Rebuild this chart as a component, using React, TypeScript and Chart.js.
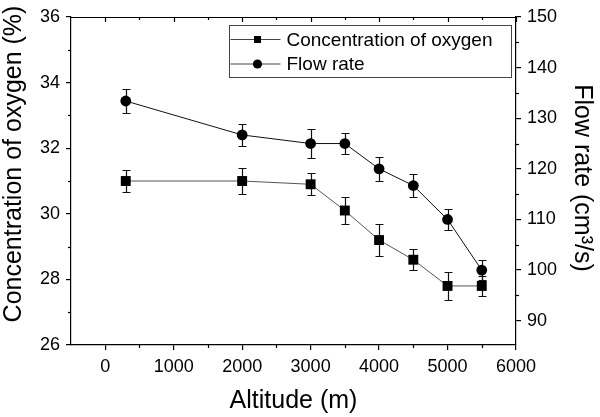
import React, { useEffect, useRef } from 'react';
import { Chart, registerables } from 'chart.js';

Chart.register(...registerables);

const altitudes = [300, 2000, 3000, 3500, 4000, 4500, 5000, 5500];
const oxygen = [31.0, 31.0, 30.9, 30.1, 29.2, 28.6, 27.8, 27.8];
const oxygenErr = [0.34, 0.4, 0.33, 0.4, 0.5, 0.32, 0.42, 0.3];
const flowRate = [133.4, 126.7, 125.0, 125.0, 120.0, 116.7, 110.0, 100.0];
const flowErr = [2.3, 2.2, 2.9, 2.0, 2.4, 2.2, 2.1, 2.0];

const xTickValues = [0, 1000, 2000, 3000, 4000, 5000, 6000];
const xMinorValues = [500, 1500, 2500, 3500, 4500, 5500];
const leftTickValues = [26, 28, 30, 32, 34, 36];
const leftMinorValues = [27, 29, 31, 33, 35];
const rightTickValues = [90, 100, 110, 120, 130, 140, 150];
const rightMinorValues = [85, 95, 105, 115, 125, 135, 145];

const seriesLabels = ['Concentration of oxygen', 'Flow rate'];
const xTitle = 'Altitude (m)';
const leftTitle = 'Concentration of oxygen (%)';
const rightTitle = 'Flow rate (cm\u00B3/s)';

const FONT = '"Liberation Sans", Arial, sans-serif';

const errorBarPlugin = {
  id: 'errorBars',
  beforeDatasetsDraw(chart: any) {
    const ctx = chart.ctx;
    const xs = chart.scales.x;
    ctx.save();
    ctx.strokeStyle = '#111';
    ctx.lineWidth = 1.2;
    const sets: [number[], number[], string][] = [
      [oxygen, oxygenErr, 'y'],
      [flowRate, flowErr, 'y1'],
    ];
    sets.forEach(([vals, errs, id]) => {
      const ys = chart.scales[id];
      altitudes.forEach((a, i) => {
        const px = Math.round(xs.getPixelForValue(a)) + 0.5;
        const top = Math.round(ys.getPixelForValue(vals[i] + errs[i])) + 0.5;
        const bot = Math.round(ys.getPixelForValue(vals[i] - errs[i])) + 0.5;
        ctx.beginPath();
        ctx.moveTo(px, top);
        ctx.lineTo(px, bot);
        ctx.moveTo(px - 4, top);
        ctx.lineTo(px + 4, top);
        ctx.moveTo(px - 4, bot);
        ctx.lineTo(px + 4, bot);
        ctx.stroke();
      });
    });
    ctx.restore();
  },
};

const framePlugin = {
  id: 'frameTicks',
  afterDraw(chart: any) {
    const ctx = chart.ctx;
    const { left, right, top, bottom } = chart.chartArea;
    const { x, y, y1 } = chart.scales;
    ctx.save();
    ctx.strokeStyle = '#000';
    ctx.lineWidth = 1.2;
    const seg = (x1: number, y1_: number, x2: number, y2: number) => {
      ctx.beginPath();
      ctx.moveTo(x1, y1_);
      ctx.lineTo(x2, y2);
      ctx.stroke();
    };
    seg(left - 0.5, top + 0.5, right + 0.5, top + 0.5);
    xTickValues.forEach((v) => {
      const px = Math.round(x.getPixelForValue(v)) + 0.5;
      seg(px, top, px, top + 5);
    });
    xMinorValues.forEach((v) => {
      const px = Math.round(x.getPixelForValue(v)) + 0.5;
      seg(px, top, px, top + 3);
      seg(px, bottom, px, bottom + 3);
    });
    leftMinorValues.forEach((v) => {
      const py = Math.round(y.getPixelForValue(v)) + 0.5;
      seg(left - 3, py, left, py);
    });
    rightMinorValues.forEach((v) => {
      const py = Math.round(y1.getPixelForValue(v)) + 0.5;
      if (py <= bottom) seg(right, py, right + 3, py);
    });
    ctx.restore();
  },
};

const legendPlugin = {
  id: 'boxLegend',
  afterDraw(chart: any) {
    const ctx = chart.ctx;
    const { right, top } = chart.chartArea;
    const lx = Math.round(right - 287) + 0.5;
    const ly = Math.round(top + 8) + 0.5;
    const w = 282;
    const h = 52;
    ctx.save();
    ctx.fillStyle = '#fff';
    ctx.fillRect(lx, ly, w, h);
    ctx.strokeStyle = '#444';
    ctx.lineWidth = 1;
    ctx.strokeRect(lx, ly, w, h);
    chart.data.datasets.forEach((ds: any, i: number) => {
      const ry = ly + 14 + i * 24.5;
      ctx.strokeStyle = '#444';
      ctx.lineWidth = 1;
      ctx.beginPath();
      ctx.moveTo(lx + 1, ry);
      ctx.lineTo(lx + 51, ry);
      ctx.stroke();
      ctx.fillStyle = '#000';
      const mx = lx + 28;
      if (ds.pointStyle === 'rect') {
        ctx.fillRect(mx - 3.5, ry - 3.5, 7, 7);
      } else {
        ctx.beginPath();
        ctx.arc(mx, ry, 4.6, 0, Math.PI * 2);
        ctx.fill();
      }
      ctx.font = `19px ${FONT}`;
      ctx.textAlign = 'left';
      ctx.textBaseline = 'middle';
      ctx.fillText(ds.label, lx + 57, ry + 1);
    });
    ctx.restore();
  },
};

const yTitlePlugin = {
  id: 'yTitles',
  afterDraw(chart: any) {
    const ctx = chart.ctx;
    ctx.save();
    ctx.fillStyle = '#000';
    ctx.font = `25px ${FONT}`;
    ctx.textAlign = 'center';
    ctx.textBaseline = 'alphabetic';
    ctx.save();
    ctx.translate(20.5, 164);
    ctx.rotate(-Math.PI / 2);
    ctx.fillText(leftTitle, 0, 0);
    ctx.restore();
    ctx.save();
    ctx.translate(575, 178);
    ctx.rotate(Math.PI / 2);
    ctx.fillText(rightTitle, 0, 0);
    ctx.restore();
    ctx.restore();
  },
};

export default function App() {
  const ref = useRef<HTMLCanvasElement | null>(null);

  useEffect(() => {
    if (!ref.current) return;
    const tickFont = { family: FONT, size: 18 };
    const chart = new Chart(ref.current, {
      type: 'line',
      data: {
        datasets: [
          {
            label: seriesLabels[0],
            data: altitudes.map((a, i) => ({ x: a, y: oxygen[i] })),
            yAxisID: 'y',
            borderColor: '#555',
            borderWidth: 1,
            pointStyle: 'rect',
            pointRadius: 7,
            pointBackgroundColor: '#000',
            pointBorderColor: '#000',
            pointBorderWidth: 0,
            fill: false,
            tension: 0,
          },
          {
            label: seriesLabels[1],
            data: altitudes.map((a, i) => ({ x: a, y: flowRate[i] })),
            yAxisID: 'y1',
            borderColor: '#111',
            borderWidth: 1,
            pointStyle: 'circle',
            pointRadius: 5.4,
            pointBackgroundColor: '#000',
            pointBorderColor: '#000',
            pointBorderWidth: 0,
            fill: false,
            tension: 0,
          },
        ],
      },
      options: {
        responsive: false,
        animation: false,
        layout: { padding: { top: 17, left: 0, right: 0, bottom: 0 } },
        plugins: {
          legend: { display: false },
          tooltip: { enabled: false },
        },
        scales: {
          x: {
            type: 'linear',
            position: 'bottom',
            min: -500,
            max: 6000,
            afterBuildTicks: (axis: any) => {
              axis.ticks = xTickValues.map((v) => ({ value: v }));
            },
            afterFit: (s: any) => {
              s.height = 72;
              s.paddingLeft = 0;
              s.paddingRight = 0;
            },
            ticks: {
              font: tickFont,
              color: '#000',
              padding: 6,
              maxRotation: 0,
              autoSkip: false,
              callback: (v: any) => String(v),
            },
            grid: {
              drawOnChartArea: false,
              drawTicks: true,
              tickLength: 5,
              color: '#000',
              lineWidth: 1.2,
            },
            border: { display: true, color: '#000', width: 1.2 },
            title: {
              display: true,
              text: xTitle,
              color: '#000',
              font: { family: FONT, size: 25, lineHeight: 1 },
              padding: { top: 0, bottom: 3.5 },
            },
          },
          y: {
            type: 'linear',
            position: 'left',
            min: 26,
            max: 36,
            afterBuildTicks: (axis: any) => {
              axis.ticks = leftTickValues.map((v) => ({ value: v }));
            },
            afterFit: (s: any) => {
              s.width = 71;
              s.paddingTop = 0;
              s.paddingBottom = 0;
            },
            ticks: {
              font: tickFont,
              color: '#000',
              padding: 6,
              callback: (v: any) => String(v),
            },
            grid: {
              drawOnChartArea: false,
              drawTicks: true,
              tickLength: 5,
              color: '#000',
              lineWidth: 1.2,
            },
            border: { display: true, color: '#000', width: 1.2 },
          },
          y1: {
            type: 'linear',
            position: 'right',
            min: 85.2,
            max: 150,
            afterBuildTicks: (axis: any) => {
              axis.ticks = rightTickValues.map((v) => ({ value: v }));
            },
            afterFit: (s: any) => {
              s.width = 84;
              s.paddingTop = 0;
              s.paddingBottom = 0;
            },
            ticks: {
              font: tickFont,
              color: '#000',
              padding: 6,
              callback: (v: any) => String(v),
            },
            grid: {
              drawOnChartArea: false,
              drawTicks: true,
              tickLength: 5,
              color: '#000',
              lineWidth: 1.2,
            },
            border: { display: true, color: '#000', width: 1.2 },
          },
        },
      },
      plugins: [errorBarPlugin, framePlugin, legendPlugin, yTitlePlugin],
    } as any);
    return () => chart.destroy();
  }, []);

  return (
    <canvas
      ref={ref}
      width={600}
      height={417}
      style={{ position: 'absolute', left: 0, top: 0, display: 'block' }}
    />
  );
}
